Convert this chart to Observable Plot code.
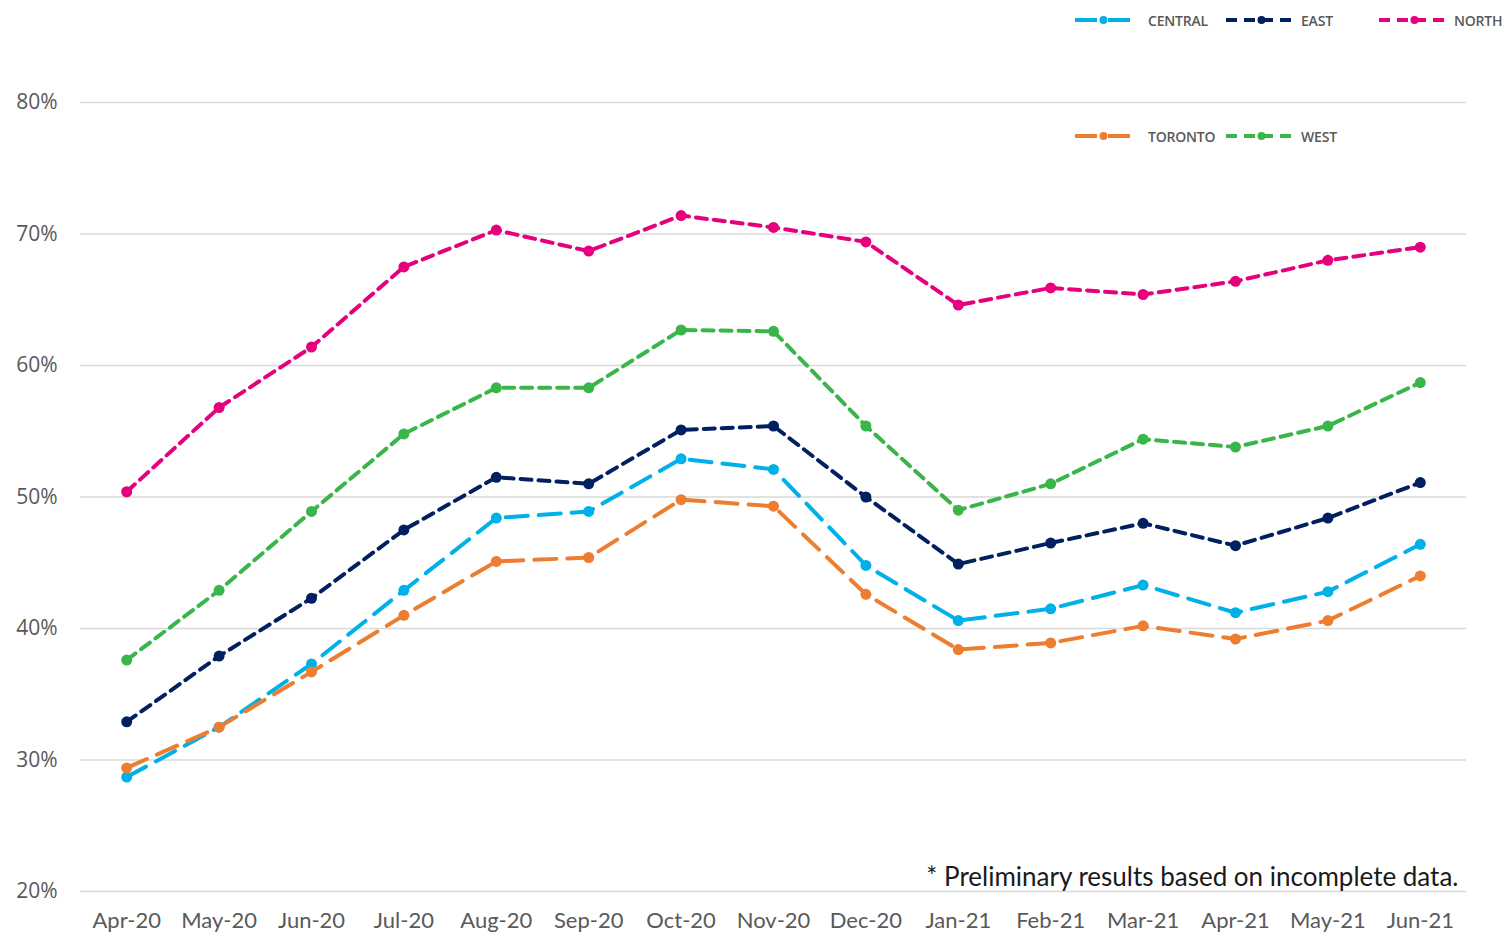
<!DOCTYPE html>
<html><head><meta charset="utf-8">
<script src="https://cdn.jsdelivr.net/npm/d3@7"></script>
<script src="https://cdn.jsdelivr.net/npm/@observablehq/plot@0.6"></script>
<style>
body{margin:0;background:#fff;}
#wrap{position:relative;width:1504px;height:932px;overflow:hidden;}
#legend{position:absolute;left:1073px;top:11px;display:grid;grid-template-columns:151px 153px 130px;grid-template-rows:18px 18px;row-gap:98px;}
.item{display:flex;align-items:center;font-family:"Open Sans",sans-serif;font-size:14px;font-weight:600;color:#595959;letter-spacing:-0.2px;white-space:nowrap;}
</style></head><body><div id="wrap"><div id="chart"></div><div id="legend"></div></div>
<script>
const months = ["Apr-20","May-20","Jun-20","Jul-20","Aug-20","Sep-20","Oct-20","Nov-20","Dec-20","Jan-21","Feb-21","Mar-21","Apr-21","May-21","Jun-21"];
const seriesNames = ["CENTRAL","EAST","NORTH","TORONTO","WEST"];
const seriesColors = ["#00b0e8","#002060","#e6007e","#ed7d31","#39b54a"];
const central = [28.7,32.5,37.3,42.9,48.4,48.9,52.9,52.1,44.8,40.6,41.5,43.3,41.2,42.8,46.4];
const east    = [32.9,37.9,42.3,47.5,51.5,51.0,55.1,55.4,50.0,44.9,46.5,48.0,46.3,48.4,51.1];
const north   = [50.4,56.8,61.4,67.5,70.3,68.7,71.4,70.5,69.4,64.6,65.9,65.4,66.4,68.0,69.0];
const toronto = [29.4,32.5,36.7,41.0,45.1,45.4,49.8,49.3,42.6,38.4,38.9,40.2,39.2,40.6,44.0];
const west    = [37.6,42.9,48.9,54.8,58.3,58.3,62.7,62.6,55.4,49.0,51.0,54.4,53.8,55.4,58.7];
const yTicks = [20,30,40,50,60,70,80];
const note = "* Preliminary results based on incomplete data.";

const seriesValues = [central, east, north, toronto, west];
const dashes = ["22,11","11,7","11,7","22,11","11,7"];
const data = [];
seriesNames.forEach((n, si) => seriesValues[si].forEach((v, i) => data.push({series: n, month: months[i], value: v})));

const marks = [
  Plot.gridY(yTicks, {stroke: "#d9d9d9", strokeOpacity: 1, strokeWidth: 1.5}),
  Plot.axisY(yTicks, {tickSize: 0, tickPadding: 23, fontSize: 21, fill: "#595959", tickFormat: d => d + "%", label: null, fontFamily: "Open Sans"}),
  Plot.axisX({tickSize: 0, tickPadding: 21, fontSize: 22, fill: "#595959", label: null, fontFamily: "Lato"})
];
seriesNames.forEach((n, si) => {
  const d = data.filter(r => r.series === n);
  marks.push(Plot.line(d, {x: "month", y: "value", stroke: seriesColors[si], strokeWidth: 4, strokeDasharray: dashes[si]}));
  marks.push(Plot.dot(d, {x: "month", y: "value", fill: seriesColors[si], r: 5.5}));
});
marks.push(Plot.text([note], {frameAnchor: "bottom-right", dx: -8, dy: -6, lineAnchor: "bottom", textAnchor: "end", fontSize: 26, fill: "#1a1a1a", fontFamily: "Lato"}));

const chart = Plot.plot({
  width: 1504, height: 932,
  marginLeft: 80, marginRight: 38, marginTop: 102, marginBottom: 41,
  style: {background: "transparent", fontFamily: "Lato"},
  x: {type: "point", domain: months, padding: 0.5, round: false, label: null},
  y: {domain: [20, 80], label: null},
  marks
});
document.getElementById("chart").appendChild(chart);

const legend = document.getElementById("legend");
seriesNames.forEach((name, si) => {
  const div = document.createElement("div");
  div.className = "item";
  const long = si === 0 || si === 3;
  const w = long ? 57 : 71;
  div.innerHTML = `<svg width="${w+4}" height="12"><line x1="2" y1="6" x2="${w+2}" y2="6" stroke="${seriesColors[si]}" stroke-width="4" stroke-dasharray="${dashes[si]}"/><circle cx="${(w+4)/2}" cy="6" r="4" fill="${seriesColors[si]}"/></svg><span style="margin-left:${long?14:2}px">${name}</span>`;
  legend.appendChild(div);
});
</script></body></html>
